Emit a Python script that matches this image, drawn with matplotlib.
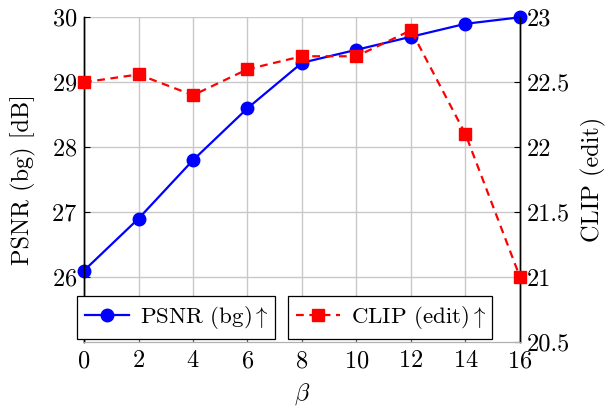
import matplotlib
matplotlib.use("Agg")
import matplotlib.pyplot as plt

beta = [0, 2, 4, 6, 8, 10, 12, 14, 16]
psnr = [26.1, 26.9, 27.8, 28.6, 29.3, 29.5, 29.7, 29.9, 30.0]
clip = [22.5, 22.56, 22.4, 22.6, 22.7, 22.7, 22.9, 22.1, 21.0]
xticks = [0, 2, 4, 6, 8, 10, 12, 14, 16]
psnr_ticks = [26, 27, 28, 29, 30]
clip_ticks = [20.5, 21, 21.5, 22, 22.5, 23]
clip_labels = ['20.5', '21', '21.5', '22', '22.5', '23']

plt.rcParams['font.family'] = 'cmr10'
plt.rcParams['mathtext.fontset'] = 'cm'
plt.rcParams['axes.formatter.use_mathtext'] = True
fs = 17.5
lfs = 16.5

fig = plt.figure(figsize=(6.15, 4.09), dpi=100)
ax = fig.add_axes([0.1366, 0.1638, 0.7089, 0.7939])
ax2 = ax.twinx()

ax.set_xlim(0, 16)
ax.set_ylim(25, 30)
ax2.set_ylim(20.5, 23)
ax.set_xticks(xticks)
ax.set_yticks(psnr_ticks)
ax2.set_yticks(clip_ticks)
ax2.set_yticklabels(clip_labels)

ax.grid(True, color='#c8c8c8', linewidth=1.0)
ax.set_axisbelow(True)

for a in (ax, ax2):
    a.spines['top'].set_visible(False)
    a.spines['bottom'].set_color('#b0b0b0')
    a.spines['left'].set_linewidth(1.0)
    a.spines['right'].set_linewidth(1.0)
    a.tick_params(direction='in', labelsize=fs, length=4, width=0.8, pad=5)
ax.tick_params(axis='x', pad=6, color='#606060')

l1, = ax.plot(beta, psnr, color='#0000ff', marker='o', markersize=9,
              linewidth=1.6, label=r'PSNR (bg)$\uparrow$', clip_on=False, zorder=3)
l2, = ax2.plot(beta, clip, color='#ff0000', marker='s', markersize=8.5,
               linewidth=1.6, linestyle=(0, (3.5, 2.5)), label=r'CLIP (edit)$\uparrow$',
               clip_on=False, zorder=3)

ax.set_xlabel(r'$\beta$', fontsize=fs, labelpad=6)
ax.set_ylabel('PSNR (bg) [dB]', fontsize=fs, labelpad=11)
ax2.set_ylabel('CLIP (edit)', fontsize=fs, labelpad=8)

common = dict(loc='lower left', borderaxespad=0, fontsize=lfs, fancybox=False,
              framealpha=1, edgecolor='black', handlelength=1.9,
              handletextpad=0.5, borderpad=0.35, mode='expand')
leg1 = ax2.legend(handles=[l1], bbox_to_anchor=(-0.016, 0.009, 0.454, 0.13), **common)
leg1.get_frame().set_linewidth(0.9)
ax2.add_artist(leg1)
leg2 = ax2.legend(handles=[l2], bbox_to_anchor=(0.468, 0.009, 0.468, 0.13), **common)
leg2.get_frame().set_linewidth(0.9)

fig.savefig('out.png', dpi=100)
